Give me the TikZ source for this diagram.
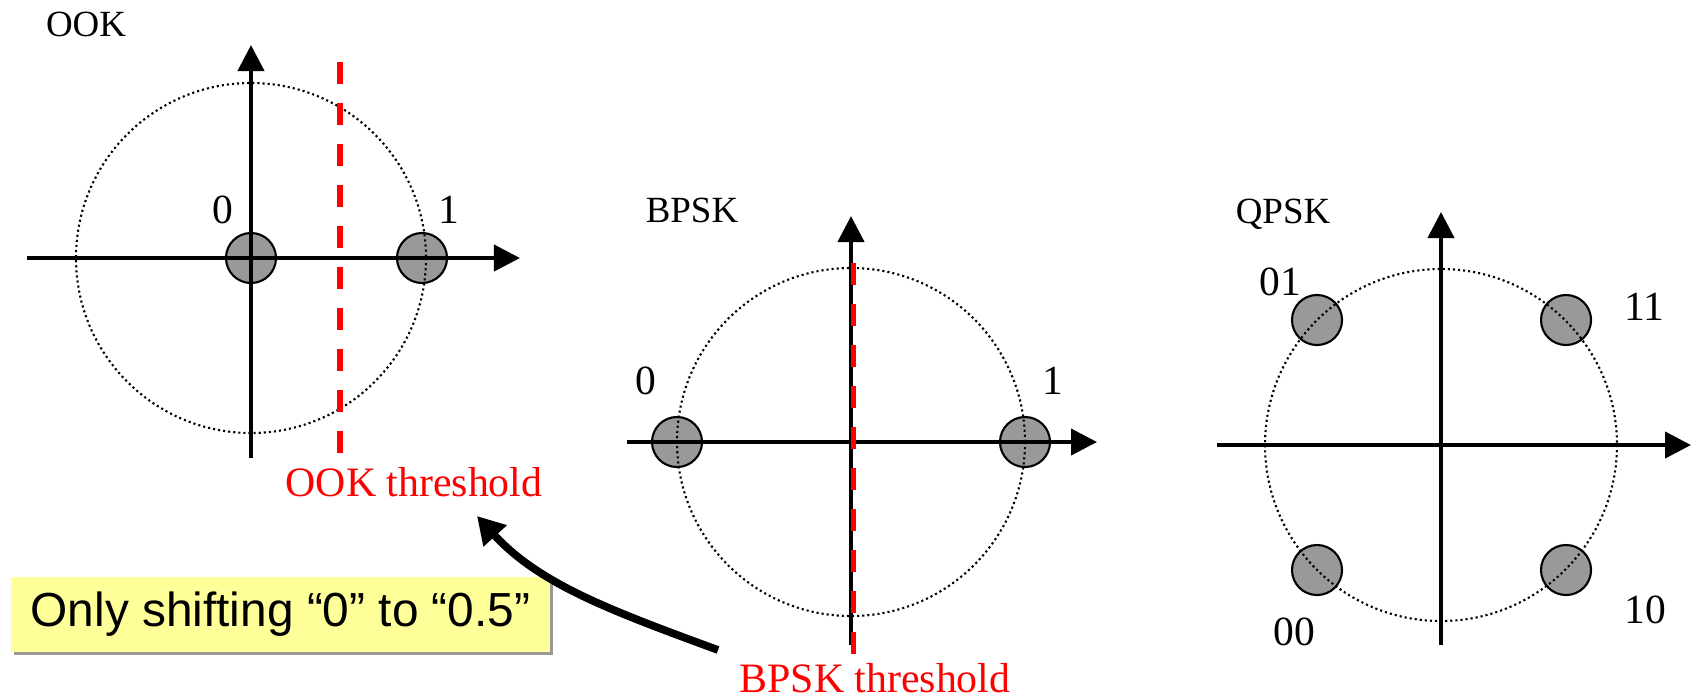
\documentclass[tikz,border=0pt]{standalone}
\usepackage{fontspec}
\setmainfont{Liberation Serif}
\newfontfamily\arialfont{Liberation Sans}
\usetikzlibrary{arrows.meta}
\definecolor{dotgray}{HTML}{999999}
\definecolor{boxyellow}{HTML}{FFFF99}
\definecolor{thred}{HTML}{FF0000}
\definecolor{shadowgray}{HTML}{999999}
\begin{document}
\begin{tikzpicture}[x=0.01cm,y=-0.01cm,
  axis/.style={line width=1.15pt,-{Triangle[length=0.26cm,width=0.26cm]}},
  ring/.style={line width=0.6pt,dash pattern=on 0.6pt off 0.85pt},
  pt/.style={circle,draw=black,line width=0.6pt,fill=dotgray,minimum size=0.5cm,inner sep=0pt},
  thr/.style={thred,line width=1.45pt,dash pattern=on 0.22cm off 0.19cm},
  title/.style={font=\fontsize{10.5}{12}\selectfont,inner sep=0pt,anchor=base},
  lbl/.style={font=\fontsize{11.8}{14}\selectfont,inner sep=0pt,anchor=base},
  thrlbl/.style={text=thred,font=\fontsize{11.9}{14}\selectfont,inner sep=0pt,anchor=base},
  notebox/.style={fill=boxyellow,minimum width=5.39cm,minimum height=0.75cm,inner sep=0pt,
    font=\arialfont\fontsize{13.6}{16}\selectfont},
  bigarrow/.style={line width=2.2pt,-{Triangle[length=0.27cm,width=0.3cm]}},
]
\useasboundingbox (0,0) rectangle (1692,696);

% ---------- OOK ----------
\node[pt] (ook0) at (251,258) {};
\node[pt] (ook1) at (422,258) {};
\draw[ring] (251,258) circle [radius=175];
\coordinate (ookxs) at (27,258);  \coordinate (ookxe) at (520,258);
\coordinate (ookys) at (251,458); \coordinate (ookye) at (251,45);
\draw[axis] (ookxs) -- (ookxe);
\draw[axis] (ookys) -- (ookye);
\coordinate (ookts) at (340,62); \coordinate (ookte) at (340,454);
\draw[thr] (ookts) -- (ookte);
\node[title] (ooktitle) at (86,36) {OOK};
\node[lbl] (ook0lbl) at (223,223) {0};
\node[lbl] (ook1lbl) at (449,223) {1};
\node[thrlbl] (ookthr) at (414,496) {OOK threshold};

% ---------- BPSK ----------
\node[pt] (bpsk0) at (677,442) {};
\node[pt] (bpsk1) at (1025,442) {};
\draw[ring] (851,442) circle [radius=174];
\coordinate (bpxs) at (627,442);  \coordinate (bpxe) at (1097,442);
\coordinate (bpys) at (851,645);  \coordinate (bpye) at (851,216);
\draw[axis] (bpxs) -- (bpxe);
\draw[axis] (bpys) -- (bpye);
\coordinate (bpts) at (853.5,263); \coordinate (bpte) at (853.5,657);
\draw[thr] (bpts) -- (bpte);
\node[title] (bptitle) at (692,222) {BPSK};
\node[lbl] (bp0lbl) at (646,394) {0};
\node[lbl] (bp1lbl) at (1053,394) {1};
\node[thrlbl] (bpthr) at (875,692) {BPSK threshold};

% ---------- QPSK ----------
\node[pt] (q01) at (1317,320) {};
\node[pt] (q11) at (1566,320) {};
\node[pt] (q00) at (1317,570) {};
\node[pt] (q10) at (1566,570) {};
\draw[ring] (1441,445) circle [radius=176];
\coordinate (qxs) at (1217,445);  \coordinate (qxe) at (1691,445);
\coordinate (qys) at (1441,645);  \coordinate (qye) at (1441,212);
\draw[axis] (qxs) -- (qxe);
\draw[axis] (qys) -- (qye);
\node[title] (qtitle) at (1283,223) {QPSK};
\node[lbl] (q01lbl) at (1280,295) {01};
\node[lbl] (q11lbl) at (1644,320) {11};
\node[lbl] (q10lbl) at (1645,623) {10};
\node[lbl] (q00lbl) at (1294,645) {00};

% ---------- note box and arrow ----------
\node[notebox,fill=shadowgray] (noteshadow) at (283.5,617.5) {};
\node[notebox] (note) at (280.5,614.5) {Only shifting “0” to “0.5”};
\coordinate (arrtail) at (718,650);
\coordinate (arrtip) at (477,516);
\draw[bigarrow] (arrtail) .. controls (615,612) and (540,585) .. (arrtip);
\end{tikzpicture}
\end{document}
